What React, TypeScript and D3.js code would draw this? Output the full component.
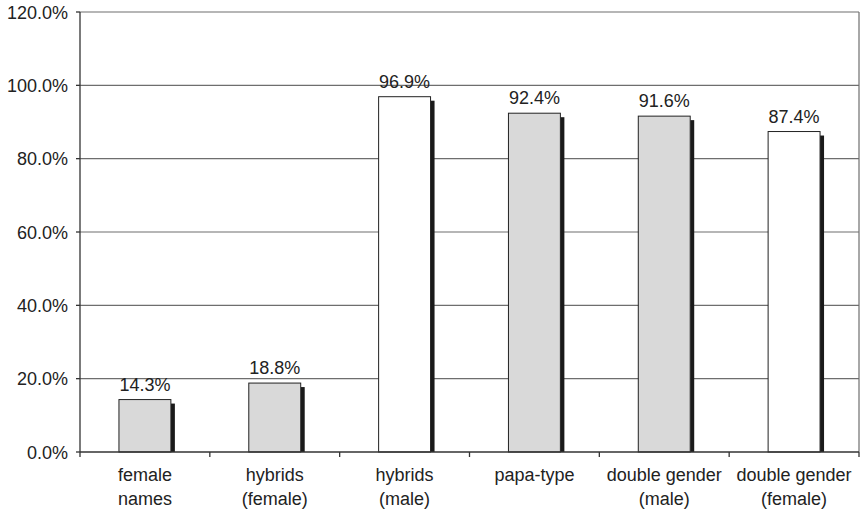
import React from "react";
import * as d3 from "d3";

const categories: string[][] = [
  ["female", "names"],
  ["hybrids", "(female)"],
  ["hybrids", "(male)"],
  ["papa-type"],
  ["double gender", "(male)"],
  ["double gender", "(female)"],
];
const values: number[] = [14.3, 18.8, 96.9, 92.4, 91.6, 87.4];
const barFills: string[] = ["#d9d9d9", "#d9d9d9", "#ffffff", "#d9d9d9", "#d9d9d9", "#ffffff"];
const yTicks: number[] = [0, 20, 40, 60, 80, 100, 120];

const W = 862;
const H = 511;
const left = 80;
const right = 859;
const top = 12;
const bottom = 452;
const FONT = "'Liberation Sans', Arial, Helvetica, sans-serif";

export default function App() {
  const x = d3
    .scaleBand<number>()
    .domain(d3.range(categories.length))
    .range([left, right])
    .paddingInner(0)
    .paddingOuter(0);
  const y = d3.scaleLinear().domain([0, 120]).range([bottom, top]);
  const bw = x.bandwidth() * 0.4;
  const shadow = 4;

  return (
    <svg
      width={W}
      height={H}
      style={{ position: "absolute", left: 0, top: 0, background: "#fff" }}
      fontFamily={FONT}
    >
      {/* gridlines */}
      {yTicks.filter((t) => t > 0).map((t) => (
        <line key={"g" + t} x1={left} x2={right} y1={y(t)} y2={y(t)} stroke="#6e6e6e" strokeWidth={1.2} />
      ))}
      {/* right border */}
      <line x1={right} x2={right} y1={top} y2={bottom} stroke="#6e6e6e" strokeWidth={1.2} />
      {/* bars */}
      {values.map((v, i) => {
        const cx = (x(i) as number) + x.bandwidth() / 2;
        const x0 = cx - bw / 2;
        const yt = y(v);
        return (
          <g key={"b" + i}>
            <rect x={x0 + bw} y={yt + shadow} width={shadow} height={bottom - yt - shadow} fill="#1a1a1a" />
            <rect x={x0} y={yt} width={bw} height={bottom - yt} fill={barFills[i]} stroke="#222" strokeWidth={1} />
            <text x={cx} y={yt - 9} textAnchor="middle" fontSize={18} fill="#222">
              {v.toFixed(1) + "%"}
            </text>
          </g>
        );
      })}
      {/* axes */}
      <line x1={left} x2={left} y1={top} y2={bottom} stroke="#333" strokeWidth={1.3} />
      <line x1={left} x2={right} y1={bottom} y2={bottom} stroke="#333" strokeWidth={1.3} />
      {yTicks.map((t) => (
        <g key={"t" + t}>
          <line x1={left - 4} x2={left} y1={y(t)} y2={y(t)} stroke="#333" strokeWidth={1.3} />
          <text x={68} y={y(t) + 6.5} textAnchor="end" fontSize={18} fill="#222">
            {t.toFixed(1) + "%"}
          </text>
        </g>
      ))}
      {d3.range(categories.length + 1).map((i) => {
        const xx = i < categories.length ? (x(i) as number) : right;
        return <line key={"ct" + i} x1={xx} x2={xx} y1={bottom} y2={bottom + 5} stroke="#333" strokeWidth={1.3} />;
      })}
      {categories.map((lines, i) => {
        const cx = (x(i) as number) + x.bandwidth() / 2;
        return (
          <text key={"c" + i} textAnchor="middle" fontSize={18} fill="#222">
            {lines.map((l, j) => (
              <tspan key={j} x={cx} y={481 + j * 23.5}>
                {l}
              </tspan>
            ))}
          </text>
        );
      })}
    </svg>
  );
}
